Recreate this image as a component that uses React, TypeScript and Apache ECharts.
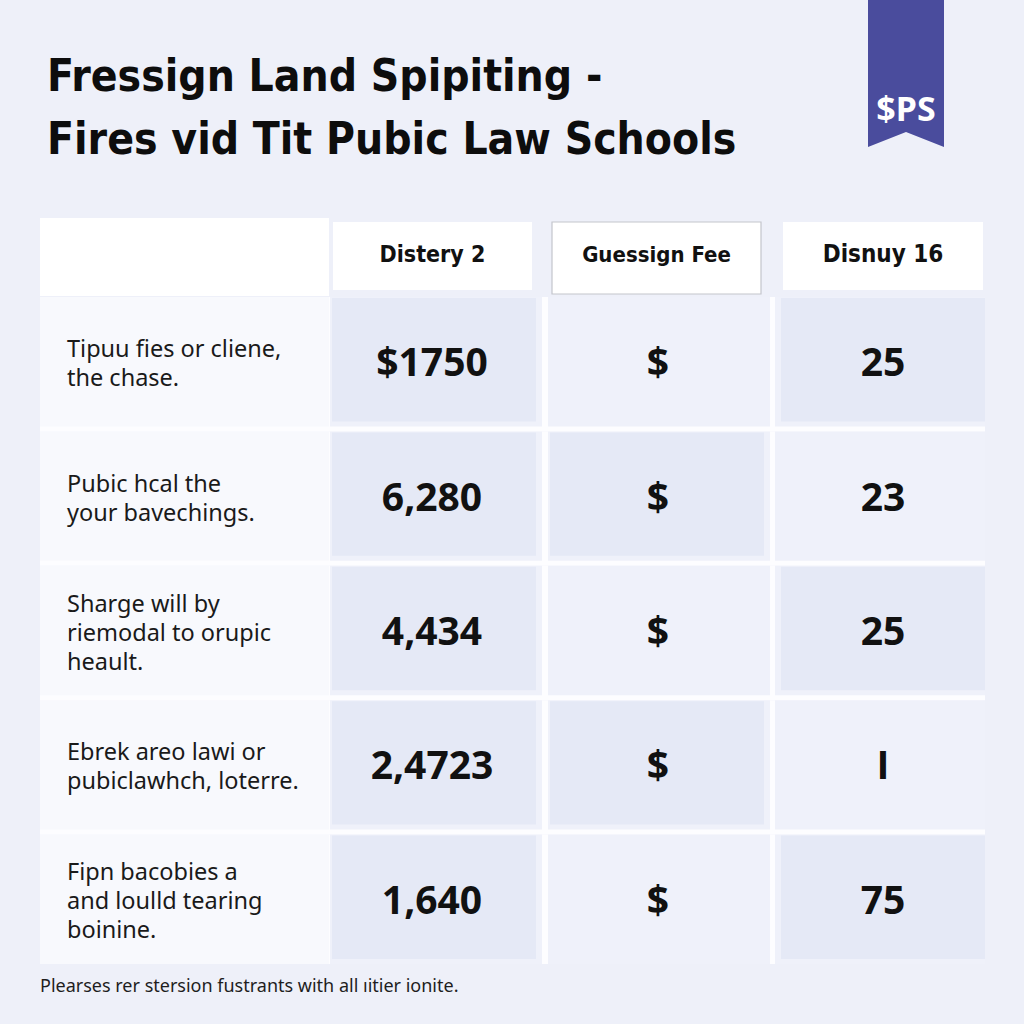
import React, { useEffect, useRef } from 'react';
import * as echarts from 'echarts';

// ---------- data ----------
const titleLines = ['Fressign Land Spipiting -', 'Fires vid Tit Pubic Law Schools'];
const badgeText = '$PS';
const columnHeaders = ['', 'Distery 2', 'Guessign Fee', 'Disnuy 16'];
const rowLabels = [
  'Tipuu fies or cliene,\nthe chase.',
  'Pubic hcal the\nyour bavechings.',
  'Sharge will by\nriemodal to orupic\nheault.',
  'Ebrek areo lawi or\npubiclawhch, loterre.',
  'Fipn bacobies a\nand loulld tearing\nboinine.',
];
const disteryValues = ['$1750', '6,280', '4,434', '2,4723', '1,640'];
const guessignValues = ['$', '$', '$', '$', '$'];
const disnuyValues = ['25', '23', '25', 'I', '75'];
const footnote = 'Plearses rer stersion fustrants with all \u0131itier ionite.';

// ---------- layout / style ----------
const COL_SPANS = [[0, 289], [290, 502], [508, 730], [735, 945]];
const HEADER_INSETS = [[0, 0, 0, 0], [3, 10, 4, 6], [4, 9, 4, 2], [8, 2, 4, 6]]; // l, r, t, b
const SHADE_INSETS = [[0, 0], [2, 6], [2, 6], [6, 0]]; // l, r
const VALUE_SHIFT = [0, -4, -1, 3];
const HEADER_FONT_SIZE = [22, 23, 22, 24];
const NARROW = "'DejaVu Sans Condensed', 'Liberation Sans Narrow', sans-serif";
const SANS = "'Noto Sans', 'Open Sans', sans-serif";
const VALUE_FONT = "'Open Sans', 'Noto Sans', sans-serif";
const BG = '#eef0f9';
const CELL_LIGHT = '#eff1fa';
const CELL_LABEL = '#f8f9fd';
const CELL_SHADE = '#e5e9f6';
const GAP = '#fdfdff';

const columnValues = [rowLabels, disteryValues, guessignValues, disnuyValues];

function isShaded(c: number, r: number) {
  if (c === 1) return true;
  if (c === 2) return r % 2 === 1;
  if (c === 3) return r % 2 === 0;
  return false;
}

export default function App() {
  const ref = useRef<HTMLDivElement>(null);
  useEffect(() => {
    if (!ref.current) return;
    const chart = echarts.init(ref.current, undefined, { renderer: 'svg' });

    const bodyData: number[][] = [];
    rowLabels.forEach((_, r) => {
      for (let c = 0; c < columnHeaders.length; c++) bodyData.push([c, r]);
    });
    const headerData = columnHeaders.map((_, c) => [c, 0]);
    const nRows = rowLabels.length;
    const nCols = columnHeaders.length;

    const option: any = {
      animation: false,
      backgroundColor: BG,
      title: {
        text: titleLines.join('\n'),
        left: 42,
        top: 39,
        textStyle: {
          fontSize: 44,
          fontWeight: 'bold',
          lineHeight: 63,
          color: '#0d0d0d',
          fontFamily: NARROW,
        },
      },
      grid: [
        { left: 40, top: 218, width: 945, height: 78, show: false },
        { left: 40, top: 297, width: 945, height: 672, show: false },
      ],
      xAxis: [
        { type: 'category', gridIndex: 0, data: columnHeaders, show: false },
        { type: 'category', gridIndex: 1, data: columnHeaders, show: false },
      ],
      yAxis: [
        { type: 'category', gridIndex: 0, data: ['header'], show: false, inverse: true },
        { type: 'category', gridIndex: 1, data: rowLabels, show: false, inverse: true },
      ],
      graphic: [
        {
          type: 'polygon',
          shape: { points: [[868, 0], [944, 0], [944, 147], [906, 132], [868, 147]] },
          style: { fill: '#4a4c9d' },
        },
        {
          type: 'text',
          x: 906,
          y: 108,
          style: {
            text: badgeText,
            fill: '#ffffff',
            fontSize: 34,
            fontWeight: 'bold',
            fontFamily: SANS,
            align: 'center',
            verticalAlign: 'middle',
          },
        },
        {
          type: 'text',
          x: 40,
          y: 985,
          style: {
            text: footnote,
            fill: '#1e1e1e',
            fontSize: 18,
            fontFamily: SANS,
            align: 'left',
            verticalAlign: 'middle',
          },
        },
      ],
      series: [
        {
          type: 'custom',
          xAxisIndex: 0,
          yAxisIndex: 0,
          data: headerData,
          renderItem: (params: any, api: any) => {
            const c = params.dataIndex;
            const cs = params.coordSys;
            const center = api.coord([api.value(0), api.value(1)]);
            const bandH = api.size([0, 1])[1];
            const top = center[1] - bandH / 2;
            const ins = HEADER_INSETS[c];
            const x0 = cs.x + COL_SPANS[c][0] + ins[0];
            const x1 = cs.x + COL_SPANS[c][1] - ins[1];
            const y0 = top + ins[2];
            const y1 = top + bandH - ins[3];
            const children: any[] = [
              {
                type: 'rect',
                shape: { x: x0, y: y0, width: x1 - x0, height: y1 - y0 },
                style: {
                  fill: '#ffffff',
                  stroke: c === 2 ? '#c4c5cc' : null,
                  lineWidth: c === 2 ? 1.2 : 0,
                },
              },
            ];
            if (columnHeaders[c]) {
              children.push({
                type: 'text',
                x: (x0 + x1) / 2,
                y: top + 36,
                style: {
                  text: columnHeaders[c],
                  fill: '#111111',
                  fontSize: HEADER_FONT_SIZE[c],
                  fontWeight: 'bold',
                  fontFamily: NARROW,
                  align: 'center',
                  verticalAlign: 'middle',
                },
              });
            }
            return { type: 'group', children };
          },
        },
        {
          type: 'custom',
          xAxisIndex: 1,
          yAxisIndex: 1,
          data: bodyData,
          renderItem: (params: any, api: any) => {
            const c = api.value(0);
            const r = api.value(1);
            const cs = params.coordSys;
            const center = api.coord([c, r]);
            const bandH = api.size([0, 1])[1];
            const top = center[1] - bandH / 2;
            const h = bandH - 5;
            const x0 = cs.x + COL_SPANS[c][0];
            const x1 = cs.x + COL_SPANS[c][1];
            const w = x1 - x0;
            const gapRight = c < nCols - 1 ? cs.x + COL_SPANS[c + 1][0] : x1;
            const children: any[] = [
              {
                type: 'rect',
                shape: { x: x0, y: top, width: gapRight - x0, height: r < nRows - 1 ? bandH : h },
                style: { fill: GAP },
              },
              {
                type: 'rect',
                shape: { x: x0, y: top, width: w, height: h },
                style: { fill: c === 0 ? CELL_LABEL : CELL_LIGHT },
              },
            ];
            if (isShaded(c, r)) {
              const si = SHADE_INSETS[c];
              children.push({
                type: 'rect',
                shape: { x: x0 + si[0], y: top + 1, width: w - si[0] - si[1], height: h - 6 },
                style: { fill: CELL_SHADE },
              });
            }
            const txt = columnValues[c][r];
            if (c === 0) {
              children.push({
                type: 'text',
                x: x0 + 27,
                y: top + h / 2 + 1,
                style: {
                  text: txt,
                  fill: '#1a1a1a',
                  fontSize: 23.5,
                  lineHeight: 29,
                  fontFamily: SANS,
                  align: 'left',
                  verticalAlign: 'middle',
                },
              });
            } else {
              children.push({
                type: 'text',
                x: x0 + w / 2 + VALUE_SHIFT[c],
                y: top + h / 2 - 1,
                style: {
                  text: txt,
                  fill: '#111111',
                  fontSize: 39,
                  fontWeight: 'bold',
                  fontFamily: VALUE_FONT,
                  align: 'center',
                  verticalAlign: 'middle',
                },
              });
            }
            return { type: 'group', children };
          },
        },
      ],
    };

    chart.setOption(option);
    return () => chart.dispose();
  }, []);

  return (
    <div
      ref={ref}
      style={{ position: 'absolute', left: 0, top: 0, width: 1024, height: 1024 }}
    />
  );
}
